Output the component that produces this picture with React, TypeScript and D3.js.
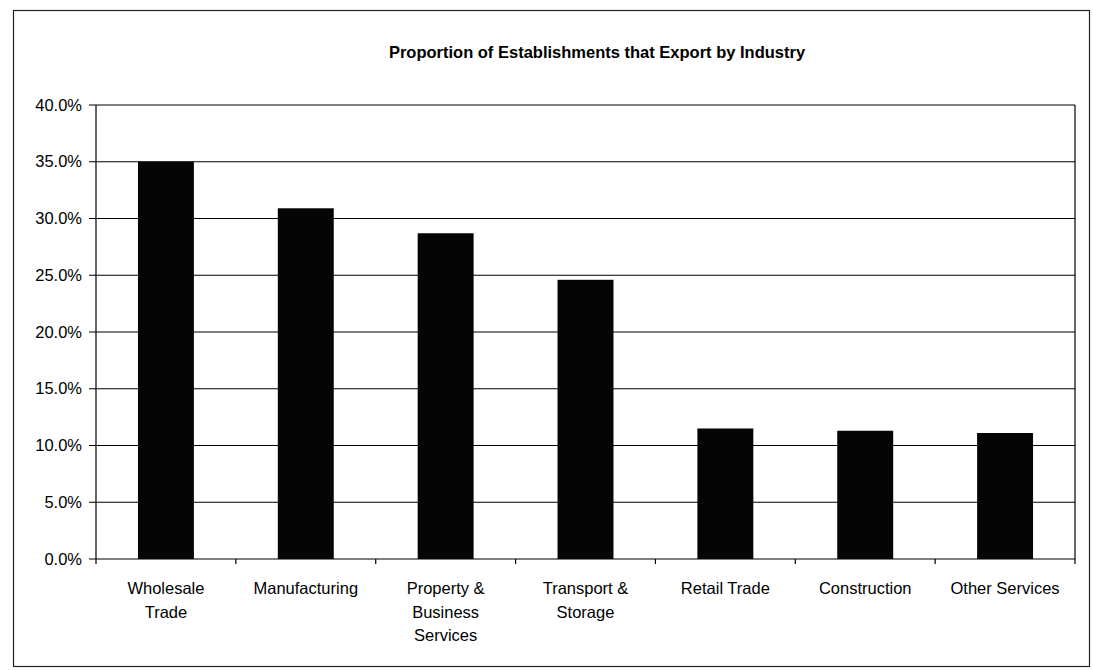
import React from "react";
import * as d3 from "d3";

const categories: string[][] = [
  ["Wholesale", "Trade"],
  ["Manufacturing"],
  ["Property &", "Business", "Services"],
  ["Transport &", "Storage"],
  ["Retail Trade"],
  ["Construction"],
  ["Other Services"],
];
const values: number[] = [0.350, 0.309, 0.287, 0.246, 0.115, 0.113, 0.111];
const yTicks: number[] = [0, 0.05, 0.1, 0.15, 0.2, 0.25, 0.3, 0.35, 0.4];
const title = "Proportion of Establishments that Export by Industry";

export default function App() {
  const W = 1093, H = 670;
  const left = 96, right = 1075, top = 105, bottom = 559;
  const x = d3.scaleBand<number>().domain(d3.range(values.length)).range([left, right]).paddingInner(0.6).paddingOuter(0.3);
  const xb = d3.scaleBand<number>().domain(d3.range(values.length)).range([left, right]);
  const y = d3.scaleLinear().domain([0, 0.4]).range([bottom, top]);
  const fmt = d3.format(".1%");
  const font = "'Liberation Sans', Arial, sans-serif";
  return (
    <svg width={W} height={H} style={{ position: "absolute", left: 0, top: 0, background: "#fff" }} fontFamily={font}>
      <rect x={13.5} y={10.5} width={1076} height={656} fill="none" stroke="#222" strokeWidth={1.2} />
      <text x={597} y={58} textAnchor="middle" fontSize={16.5} fontWeight="bold" fill="#000">{title}</text>
      {yTicks.map((t) => (
        <g key={t}>
          <line x1={left - 7} x2={right} y1={y(t)} y2={y(t)} stroke="#000" strokeWidth={1.2} />
          <text x={82} y={y(t) + 5.5} textAnchor="end" fontSize={16.5} fill="#000">{fmt(t)}</text>
        </g>
      ))}
      <line x1={left} x2={left} y1={top} y2={bottom} stroke="#000" strokeWidth={1.2} />
      <line x1={right} x2={right} y1={top} y2={bottom} stroke="#000" strokeWidth={1.2} />
      {values.map((v, i) => (
        <rect key={i} x={x(i)} y={y(v)} width={x.bandwidth()} height={bottom - y(v)} fill="#050505" />
      ))}
      {d3.range(values.length + 1).map((i) => {
        const xx = i < values.length ? (xb(i) as number) : right;
        return <line key={i} x1={xx} x2={xx} y1={bottom} y2={bottom + 5} stroke="#000" strokeWidth={1.2} />;
      })}
      {categories.map((lines, i) => (
        <text key={i} textAnchor="middle" fontSize={16.5} fill="#000">
          {lines.map((l, j) => (
            <tspan key={j} x={(xb(i) as number) + xb.bandwidth() / 2} y={594 + j * 23.5}>{l}</tspan>
          ))}
        </text>
      ))}
    </svg>
  );
}
